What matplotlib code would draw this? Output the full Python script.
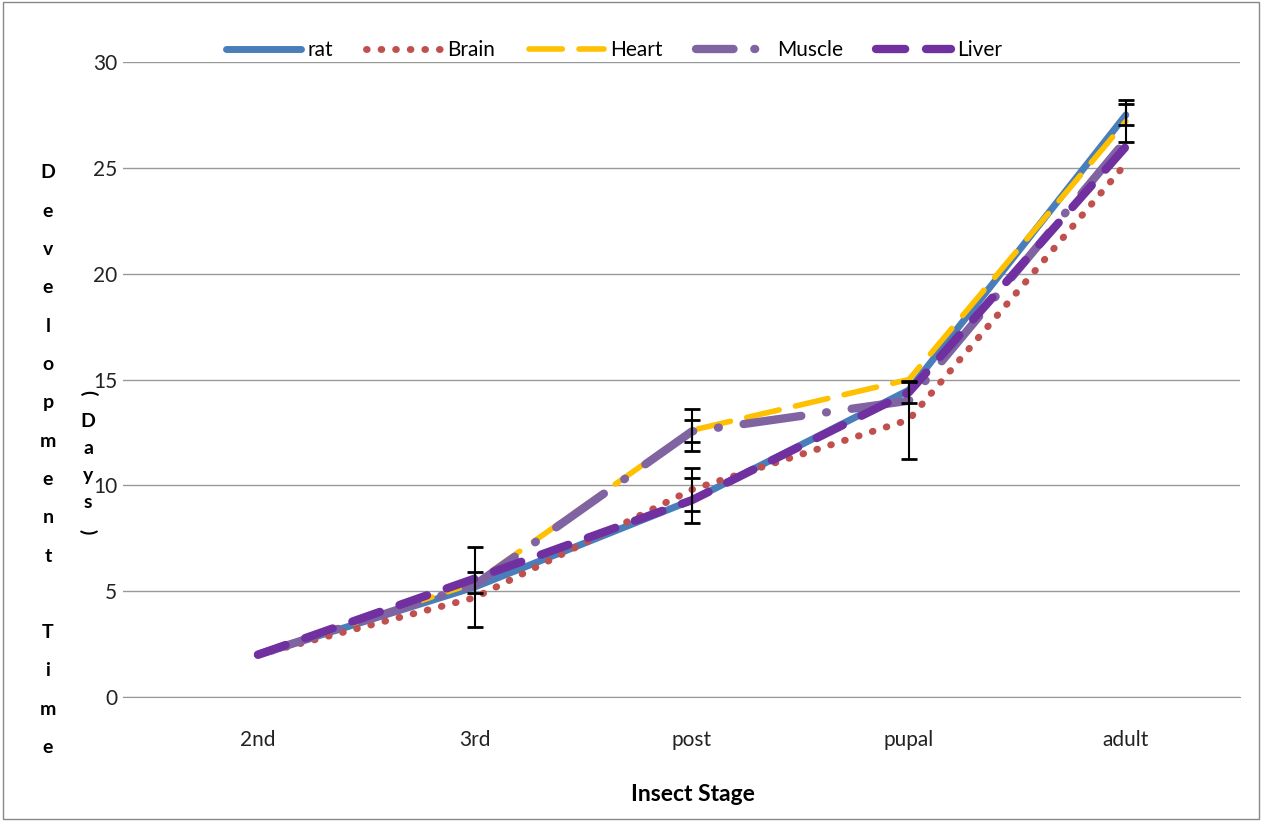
import numpy as np
import matplotlib
matplotlib.use('Agg')
import matplotlib.pyplot as plt
from matplotlib.patches import Rectangle

plt.rcParams['font.family'] = ['Lato', 'DejaVu Sans']

# data
stages = ['2nd', '3rd', 'post', 'pupal', 'adult']
rat = [2.0, 5.2, 9.3, 14.5, 27.5]
brain = [2.0, 4.7, 9.8, 13.1, 25.2]
heart = [2.0, 5.4, 12.6, 15.0, 27.2]
muscle = [2.0, 5.3, 12.55, 14.0, 26.3]
liver = [2.0, 5.6, 9.3, 14.4, 26.0]

rat_err = [0, 1.9, 1.07, 0, 0.5]
brain_err = [0, 0, 1.0, 1.85, 0]
heart_err = [0, 0.5, 1.0, 0, 1.0]
muscle_err = [0, 0, 0.52, 0, 0]
liver_err = [0, 0, 0, 0.5, 0]

yticks = [0, 5, 10, 15, 20, 25, 30]


def main():
    fig = plt.figure(figsize=(12.64, 8.21), dpi=100)
    ax = fig.add_axes([0.097, 0.151, 0.884, 0.7735])
    x = np.arange(len(stages))

    ax.plot(x, rat, color='#4A7EBB', lw=5, solid_capstyle='round', label='rat', zorder=3)
    ax.plot(x, brain, color='#C0504D', lw=5, linestyle=(0, (0.1, 2.0)),
            dash_capstyle='round', label='Brain', zorder=3)
    ax.plot(x, heart, color='#FFC000', lw=4, linestyle=(0, (6, 3)),
            dash_capstyle='round', label='Heart', zorder=3)
    ax.plot(x, muscle, color='#8064A2', lw=6, linestyle=(0, (7, 3, 0.1, 3)),
            dash_capstyle='round', label='Muscle', zorder=3)
    ax.plot(x, liver, color='#7030A0', lw=6, linestyle=(0, (3.5, 2.5)),
            dash_capstyle='round', label='Liver', zorder=4)

    # error bars
    for vals, err in [(rat, rat_err), (brain, brain_err), (heart, heart_err),
                      (muscle, muscle_err), (liver, liver_err)]:
        e = np.array(err)
        m = e > 0
        ax.errorbar(x[m], np.array(vals)[m], yerr=e[m], fmt='none', ecolor='black',
                    elinewidth=1.5, capsize=6, capthick=2, zorder=5)

    ax.set_xlim(-0.624, 4.526)
    ax.set_ylim(0, 30)
    ax.set_yticks(yticks)
    ax.set_xticks(x)
    ax.set_xticklabels(stages)
    ax.tick_params(axis='both', length=0, labelsize=15, colors='#222222')
    ax.tick_params(axis='x', pad=24)
    ax.tick_params(axis='y', pad=4)
    ax.grid(axis='y', color='#999999', lw=1)
    ax.set_axisbelow(True)
    for s in ['left', 'right', 'top']:
        ax.spines[s].set_visible(False)
    ax.spines['bottom'].set_color('#999999')

    ax.set_xlabel('Insect Stage', fontsize=16.5, fontweight='bold', labelpad=24)
    ax.xaxis.label.set_x(0.5105)

    # stacked y label
    word = 'Development Time'
    ypos = 173
    for ch in word:
        if ch != ' ':
            fig.text(48 / 1264, 1 - ypos / 821, ch, fontsize=14, fontweight='bold',
                     ha='center', va='center')
        ypos += 38.3
    fig.text(88 / 1264, 1 - 393 / 821, '(', fontsize=14, fontweight='bold',
             ha='center', va='center', rotation=-90)
    ypos = 421
    for ch in 'Days':
        fig.text(88 / 1264, 1 - ypos / 821, ch, fontsize=14, fontweight='bold',
                 ha='center', va='center')
        ypos += 27
    fig.text(88 / 1264, 1 - 532 / 821, ')', fontsize=14, fontweight='bold',
             ha='center', va='center', rotation=-90)

    leg = ax.legend(loc='lower center', bbox_to_anchor=(0.44, 0.99), ncol=5, frameon=False,
                    fontsize=15, handlelength=3.6, handletextpad=0.3, columnspacing=1.6,
                    borderaxespad=0)
    leg.get_lines()[3].set_linestyle((0, (4.5, 2.5, 0.1, 3)))

    fig.patches.append(Rectangle((0.002, 0.003), 0.994, 0.994, transform=fig.transFigure,
                                 fill=False, edgecolor='#888888', lw=1))

    fig.savefig('out.png', dpi=100)


if __name__ == '__main__':
    main()
